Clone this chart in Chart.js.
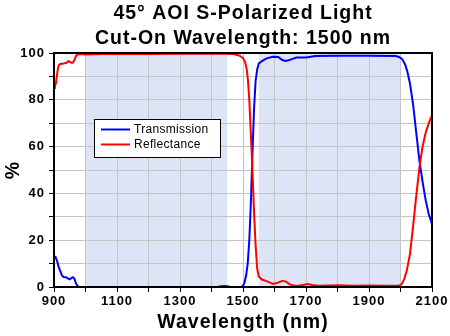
<!DOCTYPE html>
<html>
<head>
<meta charset="utf-8">
<script src="https://cdn.jsdelivr.net/npm/chart.js@4.4.1/dist/chart.umd.min.js"></script>
<style>
  html, body { margin: 0; padding: 0; background: #fff; }
</style>
</head>
<body>
<canvas id="chart" width="450" height="336"></canvas>
<script>
const TITLE_LINES = ['45° AOI S-Polarized Light', 'Cut-On Wavelength: 1500 nm'];
const SERIES_LABELS = ['Transmission', 'Reflectance'];
const SERIES_COLORS = ['#0000ff', '#ff0000'];

// Transmission, % vs wavelength (nm)
const transNm = [900, 905, 910, 915, 920, 925, 930, 940, 945, 950, 955, 960, 965, 970, 975, 980,
  1100, 1300, 1420, 1425, 1440, 1450, 1460, 1495, 1500, 1505, 1510, 1515, 1520, 1525, 1530, 1535,
  1540, 1545, 1550, 1560, 1575, 1595, 1612, 1625, 1635, 1645, 1655, 1670, 1700, 1730, 1800, 1900,
  1985, 1995, 2005, 2015, 2022, 2030, 2040, 2050, 2060, 2070, 2080, 2090, 2100];
const transPct = [13.2, 12.8, 11, 8.5, 6.8, 5, 4.3, 4.1, 3.6, 3.3, 3.8, 4.2, 3.5, 1.5, 0.4, 0,
  0, 0, 0, 0.2, 0.4, 0.3, 0, 0, 0.5, 2, 5, 10, 20, 36, 57, 76,
  88, 93, 95.5, 96.5, 97.7, 98.4, 98.3, 97, 96.6, 96.9, 97.4, 98.1, 98.1, 98.7, 98.8, 98.8,
  98.7, 98.3, 97.5, 95, 92, 87, 78, 66, 54, 45, 37, 31, 27];

// Reflectance, % vs wavelength (nm)
const reflNm = [900, 903, 906, 909, 912, 915, 920, 930, 940, 945, 950, 955, 960, 965, 970, 975,
  990, 1000, 1050, 1100, 1200, 1300, 1440, 1470, 1490, 1500, 1507, 1512, 1516, 1520, 1525, 1530,
  1535, 1540, 1545, 1550, 1560, 1575, 1595, 1610, 1625, 1635, 1650, 1670, 1690, 1705, 1720, 1740,
  1800, 1850, 1900, 1950, 1990, 2000, 2005, 2012, 2020, 2030, 2040, 2050, 2060, 2070, 2080, 2090, 2100];
const reflPct = [85, 86, 87, 90, 93, 94.7, 95.3, 95.5, 95.8, 96.5, 96.3, 95.8, 95.8, 97, 98.8, 99.4,
  99.6, 99.4, 99.6, 99.7, 99.6, 99.7, 99.7, 99.6, 98.8, 97.8, 96, 93, 88, 80, 65, 50,
  32, 18, 8, 4.5, 3.2, 2.5, 1.3, 1.8, 2.6, 2.4, 1, 0.4, 0.9, 1.3, 0.9, 0.5,
  0.7, 0.5, 0.6, 0.5, 0.5, 0.8, 1.5, 3.5, 7, 14, 26, 39, 51, 60, 66, 70, 73.5];

// shaded wavelength bands (nm)
const bandStart = [1000, 1550];
const bandEnd = [1450, 2000];

const FONT = 'Arial, "Liberation Sans", sans-serif';

const pairs = (xs, ys) => xs.map((x, i) => ({ x, y: ys[i] }));

// white background, shaded bands and wider letter spacing for all text
const backdrop = {
  id: 'backdrop',
  beforeDraw(chart) {
    const { ctx, chartArea, scales } = chart;
    ctx.save();
    ctx.fillStyle = '#fff';
    ctx.fillRect(0, 0, chart.width, chart.height);
    ctx.fillStyle = '#dce4f6';
    const y0 = scales.y.getPixelForValue(100);
    const y1 = scales.y.getPixelForValue(0);
    bandStart.forEach((s, i) => {
      const x0 = scales.x.getPixelForValue(s);
      const x1 = scales.x.getPixelForValue(bandEnd[i]);
      ctx.fillRect(x0, y0, x1 - x0, y1 - y0);
    });
    ctx.restore();
    ctx.letterSpacing = '1px';
  }
};

// closed frame around the plot plus the boxed legend
const frame = {
  id: 'frame',
  afterDraw(chart) {
    const { ctx, chartArea: a } = chart;
    ctx.save();
    ctx.strokeStyle = '#000';
    ctx.lineWidth = 2;
    ctx.strokeRect(a.left, a.top, a.right - a.left, a.bottom - a.top);

    const lx = a.left + 40, ly = a.top + 66, lw = 126, lh = 38;
    ctx.fillStyle = '#fff';
    ctx.fillRect(lx, ly, lw, lh);
    ctx.lineWidth = 1;
    ctx.strokeRect(lx + 0.5, ly + 0.5, lw, lh);
    ctx.font = '12px ' + FONT;
    ctx.letterSpacing = '0.3px';
    ctx.textBaseline = 'middle';
    ctx.textAlign = 'left';
    chart.data.datasets.forEach((ds, i) => {
      const y = ly + 10.5 + i * 15;
      ctx.strokeStyle = ds.borderColor;
      ctx.lineWidth = 2;
      ctx.beginPath();
      ctx.moveTo(lx + 7, y);
      ctx.lineTo(lx + 36, y);
      ctx.stroke();
      ctx.fillStyle = '#000';
      ctx.fillText(ds.label, lx + 40, y + 0.5);
    });
    ctx.restore();
  }
};

new Chart(document.getElementById('chart'), {
  type: 'line',
  data: {
    datasets: [
      { label: SERIES_LABELS[0], data: pairs(transNm, transPct), borderColor: SERIES_COLORS[0], order: 1 },
      { label: SERIES_LABELS[1], data: pairs(reflNm, reflPct), borderColor: SERIES_COLORS[1], order: 0 }
    ]
  },
  options: {
    responsive: false,
    animation: false,
    parsing: false,
    layout: { padding: { top: 0, right: 18, bottom: 0, left: 0 } },
    elements: {
      line: { borderWidth: 2, tension: 0, fill: false },
      point: { radius: 0 }
    },
    plugins: {
      legend: { display: false },
      tooltip: { enabled: false },
      title: {
        display: true,
        fullSize: false,
        text: TITLE_LINES,
        color: '#000',
        font: { family: FONT, size: 19.5, weight: 'bold', lineHeight: 1.3 },
        padding: { top: 1, bottom: 1.3 }
      }
    },
    scales: {
      x: {
        type: 'linear',
        min: 900,
        max: 2100,
        afterFit(s) { s.height = 49; },
        border: { color: '#000', width: 2 },
        grid: { color: '#c4c4c4', tickColor: '#000', tickLength: 5, lineWidth: 1 },
        ticks: {
          stepSize: 100,
          maxRotation: 0,
          autoSkip: false,
          padding: 2,
          color: '#000',
          font: { family: FONT, size: 13, weight: 'bold' },
          callback: v => ((v - 900) % 200 === 0 ? v : '')
        },
        title: {
          display: true,
          text: 'Wavelength (nm)',
          color: '#000',
          font: { family: FONT, size: 19.5, weight: 'bold', lineHeight: 1.2 },
          padding: { top: 0, bottom: 2 }
        }
      },
      y: {
        min: 0,
        max: 100,
        afterFit(s) { s.width = 54; },
        border: { color: '#000', width: 2 },
        grid: { color: '#c4c4c4', tickColor: '#000', tickLength: 5, lineWidth: 1 },
        ticks: {
          stepSize: 10,
          autoSkip: false,
          padding: 4,
          color: '#000',
          font: { family: FONT, size: 13, weight: 'bold' },
          callback: v => (v % 20 === 0 ? v : '')
        },
        title: {
          display: true,
          text: '%',
          color: '#000',
          font: { family: FONT, size: 19.5, weight: 'bold', lineHeight: 1.2 },
          padding: { top: 2, bottom: 0 }
        }
      }
    }
  },
  plugins: [backdrop, frame]
});
</script>
</body>
</html>
